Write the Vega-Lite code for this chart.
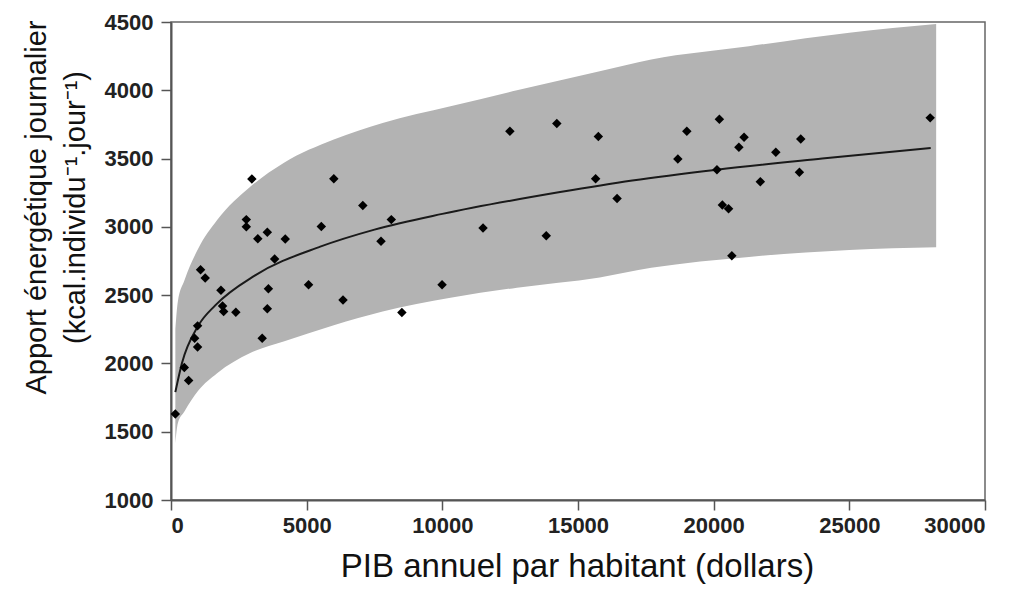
{
  "$schema": "https://vega.github.io/schema/vega-lite/v6.json",
  "autosize": {"type": "none"},
  "padding": {"left": 171, "top": 22, "right": 34, "bottom": 96},
  "width": 814,
  "height": 478,
  "background": "white",
  "config": {
    "font": "Liberation Sans",
    "view": {"stroke": "#666", "strokeWidth": 1.5},
    "axis": {
      "domainColor": "#555",
      "domainWidth": 2,
      "tickColor": "#555",
      "tickWidth": 1.5,
      "tickSize": 10,
      "labelFont": "Liberation Sans",
      "labelFontSize": 22,
      "labelFontWeight": "bold",
      "labelColor": "#222",
      "titleFont": "Liberation Sans",
      "titleFontWeight": "normal",
      "titleColor": "#111",
      "grid": false
    }
  },
  "datasets": {
    "band": [
      {"x": 160, "hi": 2250, "lo": 1415},
      {"x": 250, "hi": 2450, "lo": 1560},
      {"x": 500, "hi": 2610, "lo": 1650},
      {"x": 1000, "hi": 2840, "lo": 1800},
      {"x": 1700, "hi": 3050, "lo": 1929},
      {"x": 2900, "hi": 3290, "lo": 2075},
      {"x": 4150, "hi": 3468, "lo": 2161},
      {"x": 6000, "hi": 3639, "lo": 2280},
      {"x": 7800, "hi": 3761, "lo": 2380},
      {"x": 10300, "hi": 3883, "lo": 2480},
      {"x": 12750, "hi": 4000, "lo": 2555},
      {"x": 15800, "hi": 4140, "lo": 2630},
      {"x": 17700, "hi": 4226, "lo": 2700},
      {"x": 21300, "hi": 4323, "lo": 2780},
      {"x": 25000, "hi": 4422, "lo": 2830},
      {"x": 28200, "hi": 4485, "lo": 2850}
    ],
    "curve": [
      {"x": 160, "y": 1790},
      {"x": 400, "y": 2000},
      {"x": 1000, "y": 2275},
      {"x": 1630, "y": 2425},
      {"x": 3100, "y": 2645},
      {"x": 5500, "y": 2855},
      {"x": 7500, "y": 2980},
      {"x": 10000, "y": 3095},
      {"x": 14340, "y": 3255},
      {"x": 17000, "y": 3340},
      {"x": 20120, "y": 3419},
      {"x": 24000, "y": 3500},
      {"x": 28000, "y": 3578}
    ],
    "points": [
      {"pib": 160, "kcal": 1630},
      {"pib": 490, "kcal": 1970},
      {"pib": 650, "kcal": 1875},
      {"pib": 870, "kcal": 2185},
      {"pib": 980, "kcal": 2275},
      {"pib": 980, "kcal": 2120},
      {"pib": 1090, "kcal": 2686},
      {"pib": 1260, "kcal": 2625},
      {"pib": 1840, "kcal": 2535},
      {"pib": 1900, "kcal": 2420},
      {"pib": 1940, "kcal": 2380},
      {"pib": 2390, "kcal": 2375},
      {"pib": 2775, "kcal": 3053},
      {"pib": 2775, "kcal": 3000},
      {"pib": 2980, "kcal": 3351},
      {"pib": 3200, "kcal": 2913},
      {"pib": 3360, "kcal": 2185},
      {"pib": 3550, "kcal": 2960},
      {"pib": 3550, "kcal": 2400},
      {"pib": 3590, "kcal": 2547},
      {"pib": 3820, "kcal": 2765},
      {"pib": 4210, "kcal": 2911},
      {"pib": 5070, "kcal": 2576},
      {"pib": 5540, "kcal": 3003},
      {"pib": 6000, "kcal": 3352},
      {"pib": 6340, "kcal": 2464},
      {"pib": 7070, "kcal": 3157},
      {"pib": 7740, "kcal": 2894},
      {"pib": 8120, "kcal": 3053},
      {"pib": 8510, "kcal": 2373},
      {"pib": 9990, "kcal": 2576},
      {"pib": 11500, "kcal": 2991},
      {"pib": 12490, "kcal": 3700},
      {"pib": 13830, "kcal": 2935},
      {"pib": 14220, "kcal": 3756},
      {"pib": 15650, "kcal": 3353},
      {"pib": 15750, "kcal": 3661},
      {"pib": 16440, "kcal": 3207},
      {"pib": 18680, "kcal": 3497},
      {"pib": 19010, "kcal": 3700},
      {"pib": 20120, "kcal": 3419},
      {"pib": 20210, "kcal": 3788},
      {"pib": 20320, "kcal": 3160},
      {"pib": 20550, "kcal": 3133},
      {"pib": 20670, "kcal": 2789},
      {"pib": 20930, "kcal": 3583},
      {"pib": 21120, "kcal": 3656},
      {"pib": 21720, "kcal": 3331},
      {"pib": 22290, "kcal": 3546},
      {"pib": 23160, "kcal": 3400},
      {"pib": 23210, "kcal": 3644},
      {"pib": 27980, "kcal": 3798}
    ]
  },
  "layer": [
    {
      "data": {"name": "band"},
      "mark": {"type": "area", "color": "#b3b3b3", "interpolate": "monotone"},
      "encoding": {
        "x": {
          "field": "x", "type": "quantitative",
          "scale": {"domain": [0, 30000], "nice": false},
          "axis": {
            "values": [0, 5000, 10000, 15000, 20000, 25000, 30000],
            "format": "d",
            "labelPadding": 5,
            "title": "PIB annuel par habitant (dollars)",
            "titleFontSize": 33,
            "titleX": 406,
            "titleY": 76,
            "titleBaseline": "alphabetic",
            "titleAnchor": "middle",
            "titleAlign": "center"
          }
        },
        "y": {
          "field": "hi", "type": "quantitative",
          "scale": {"domain": [1000, 4500], "nice": false, "zero": false},
          "axis": {
            "values": [1000, 1500, 2000, 2500, 3000, 3500, 4000, 4500],
            "format": "d",
            "labelPadding": 8,
            "title": ["Apport énergétique journalier", "(kcal.individu⁻¹.jour⁻¹)"],
            "titleFontSize": 29,
            "titleLineHeight": 39,
            "titleAngle": -90,
            "titleAnchor": "middle",
            "titleAlign": "center",
            "titleBaseline": "alphabetic",
            "titleX": -126,
            "titleY": 185
          }
        },
        "y2": {"field": "lo"}
      }
    },
    {
      "data": {"name": "curve"},
      "mark": {"type": "line", "color": "#1a1a1a", "strokeWidth": 2, "interpolate": "monotone"},
      "encoding": {
        "x": {"field": "x", "type": "quantitative"},
        "y": {"field": "y", "type": "quantitative"}
      }
    },
    {
      "data": {"name": "points"},
      "mark": {"type": "point", "shape": "diamond", "filled": true, "color": "#000", "size": 90, "opacity": 1},
      "encoding": {
        "x": {"field": "pib", "type": "quantitative"},
        "y": {"field": "kcal", "type": "quantitative"}
      }
    }
  ]
}
